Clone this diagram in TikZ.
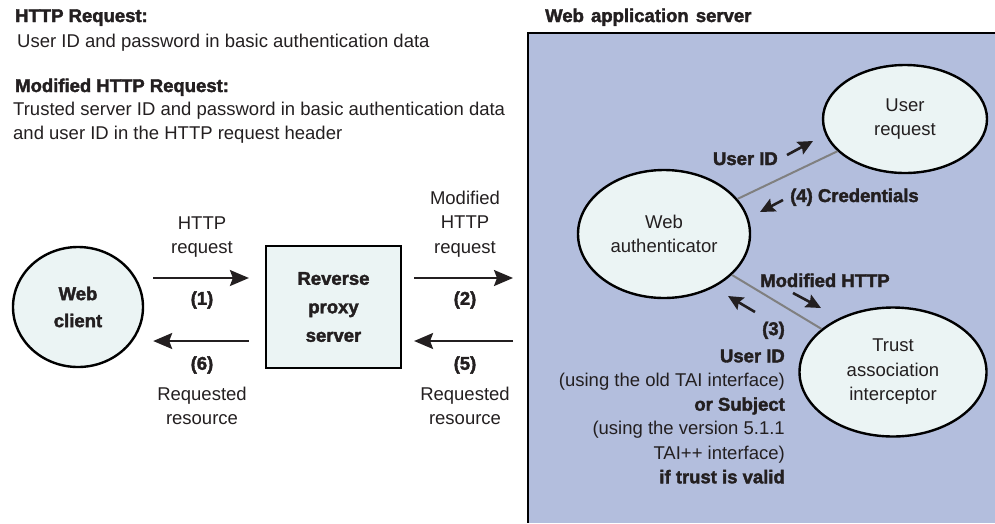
\documentclass[tikz,border=0pt]{standalone}
\usepackage{fontspec}
\setmainfont{Liberation Sans}[BoldFeatures={FakeBold=2}]
\usetikzlibrary{arrows.meta,positioning,shapes.geometric}
\definecolor{serverblue}{HTML}{B3BEDD}
\definecolor{paleteal}{HTML}{EBF4F4}
\definecolor{inkgray}{HTML}{231F20}
\tikzset{%
	txt/.style      = {inner sep=0, text=inkgray, font=\fontsize{18.5}{24.5}\selectfont},
	boldtxt/.style  = {txt, font=\fontsize{18.5}{24.5}\selectfont\bfseries},
	actor/.style    = {draw=black, line width=2.4pt, fill=paleteal, ellipse, inner sep=0, text=inkgray, align=center, font=\fontsize{18.5}{24.5}\selectfont},
	proxybox/.style = {draw=black, line width=2.2pt, fill=paleteal, rectangle, inner sep=0, text=inkgray, align=center},
	flow/.style     = {line width=2pt, draw=inkgray, -{Stealth[length=19pt,width=16pt,inset=3pt]}},
	hint/.style     = {line width=2.6pt, draw=inkgray, -{Stealth[length=15pt,width=14pt,inset=2.5pt]}},
	link/.style     = {line width=2pt, draw=gray},
}

\begin{document}
\begin{tikzpicture}[x=1pt,y=-1pt]
	\useasboundingbox (0,0) rectangle (995,523);
	% server box
	\fill[serverblue] (528,33) rectangle (995,523);
	\draw[line width=2.6pt] (995,33) -- (528,33) -- (528,523);
	\coordinate (serverin) at (528,307);
	% header text
	\node[boldtxt, anchor=base west] (hdrreq) at (15,22) {HTTP Request:};
	\node[txt, anchor=base west] (hdrreqtxt) at (17,47) {User ID and password in basic authentication data};
	\node[boldtxt, anchor=base west] (hdrmod) at (15,92) {Modified HTTP Request:};
	\node[txt, anchor=north west, align=left] (hdrmodtxt) at (13,101.5) {Trusted server ID and password in basic authentication data\\and user ID in the HTTP request header};
	% left side
	\node[actor, minimum width=130, minimum height=120, font=\fontsize{18.5}{27}\selectfont\bfseries] (client) at (78,307) {Web\\client};
	\node[proxybox, minimum width=135, minimum height=122, font=\fontsize{18.5}{28.5}\selectfont\bfseries] (proxy) at (333.5,307) {Reverse\\proxy\\server};
	\draw[flow, shorten <=9pt, shorten >=16pt] ([yshift=29pt]client.east) -- ([yshift=29pt]proxy.west);
	\draw[flow, shorten <=16pt, shorten >=9pt] ([yshift=-34pt]proxy.west) -- ([yshift=-34pt]client.east);
	\draw[flow, shorten <=12pt, shorten >=15pt] ([yshift=29pt]proxy.east) -- ([yshift=29pt]serverin);
	\draw[flow, shorten <=15pt, shorten >=12pt] ([yshift=-34pt]serverin) -- ([yshift=-34pt]proxy.east);
	\node[txt, align=center] (reqlbl) at (202,237) {HTTP\\request};
	\node[boldtxt] (step1) at (202,300) {(1)};
	\node[boldtxt] (step6) at (202,365) {(6)};
	\node[txt, align=center] (reslbl) at (202,406) {Requested\\resource};
	\node[txt, align=center] (modlbl) at (465,224) {Modified\\HTTP\\request};
	\node[boldtxt] (step2) at (465,300) {(2)};
	\node[boldtxt] (step5) at (465,365) {(5)};
	\node[txt, align=center] (reslbl2) at (465,406) {Requested\\resource};
	% web application server
	\node[boldtxt, anchor=base west] (wastitle) at (545,22) {Web\hspace{2pt} application\hspace{2pt} server};
	\node[actor, minimum width=164, minimum height=108] (userreq) at (905,119) {User\\request};
	\node[actor, minimum width=172, minimum height=128] (webauth) at (664,234) {Web\\authenticator};
	\node[actor, minimum width=187, minimum height=129] (tai) at (893,372) {Trust\\association\\interceptor};
	\draw[link] (webauth) -- (userreq);
	\draw[link] (webauth) -- (tai);
	\node[boldtxt, anchor=base east] (uidlbl) at (778,165) {User ID};
	\draw[hint] (787,155) -- (813,141);
	\node[boldtxt, anchor=base west] (credlbl) at (790,202) {(4) Credentials};
	\draw[hint] (783,200) -- (760,212);
	\node[boldtxt, anchor=base west] (modhttp) at (760,287) {Modified HTTP};
	\draw[hint] (793,293) -- (821,308);
	\draw[hint] (755,312) -- (728,296);
	\node[txt, anchor=north east, align=right, font=\fontsize{18.5}{24.2}\selectfont] (trustres) at (785,321.5) {\textbf{(3)}\\[3pt]\textbf{User ID}\\(using the old TAI interface)\\\textbf{or Subject}\\(using the version 5.1.1\\TAI++ interface)\\\textbf{if trust is valid}};
\end{tikzpicture}
\end{document}
